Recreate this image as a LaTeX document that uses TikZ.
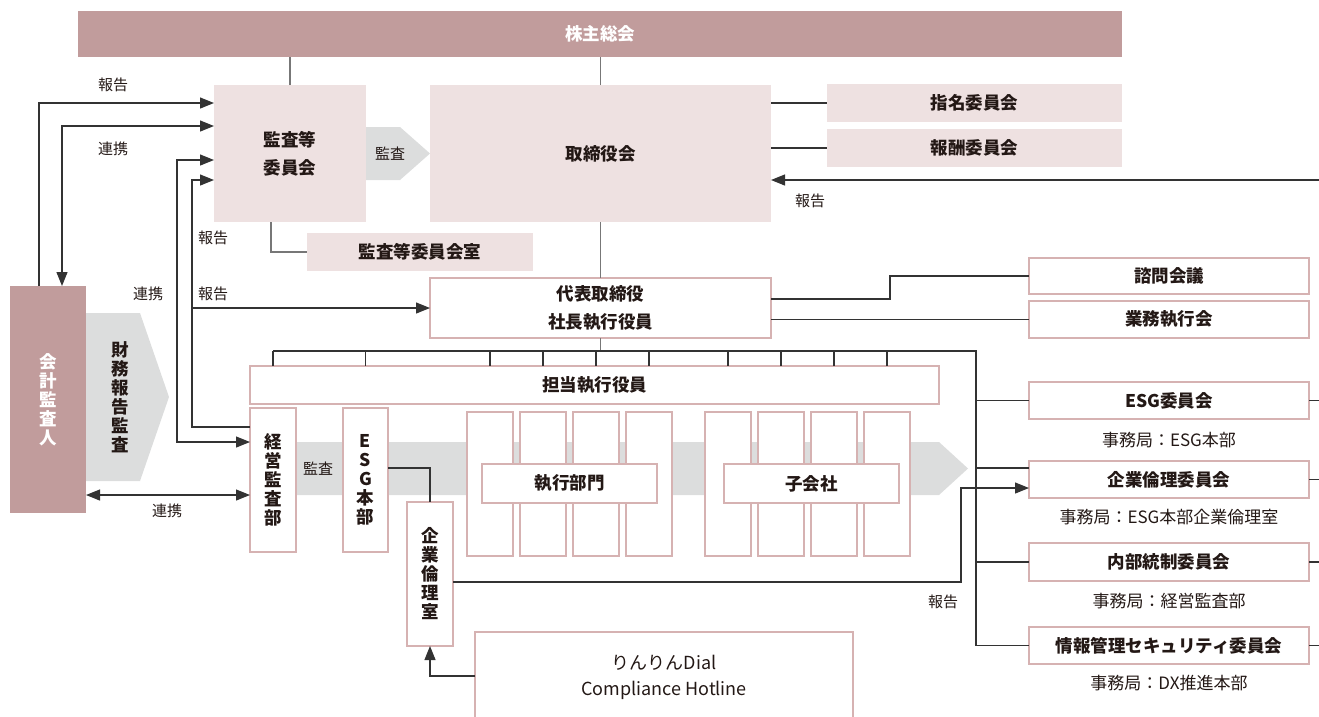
\documentclass[tikz,border=0pt]{standalone}
\usepackage{fontspec}
\setmainfont{Noto Sans CJK JP}
\usetikzlibrary{arrows.meta,calc}
\definecolor{darkpink}{HTML}{C19C9C}
\definecolor{lightpink}{HTML}{EEE1E1}
\definecolor{pinkline}{HTML}{D6B2B2}
\definecolor{bandgray}{HTML}{DCDDDD}
\definecolor{txt}{HTML}{231815}
\definecolor{conncol}{HTML}{333333}
\definecolor{conngray}{HTML}{777777}
\newcommand{\bigfont}{\bfseries\fontsize{17.5}{28}\selectfont}
\newcommand{\vfont}{\fontsize{17.5}{19}\selectfont}
\newcommand{\smallfont}{\fontsize{15}{18}\selectfont}
\newcommand{\secfont}{\fontsize{17}{19}\selectfont}
\begin{document}
\begin{tikzpicture}[x=1pt,y=-1pt,
  box/.style={inner sep=0pt, outer sep=0pt, anchor=north west, align=center, text=txt},
  fillbox/.style={box, fill=lightpink, font=\bigfont},
  darkbox/.style={box, fill=darkpink, text=white},
  linebox/.style={box, draw=pinkline, line width=1.2pt, fill=white, font=\bigfont},
  colbox/.style={box, draw=pinkline, line width=1.2pt, fill=white, minimum width=46pt, minimum height=144pt},
  conn/.style={draw=conncol, line width=1.2pt},
  gline/.style={draw=conngray, line width=1.6pt},
  arr/.style={conn, -{Triangle[length=14pt,width=11pt]}},
  arrboth/.style={conn, {Triangle[length=14pt,width=11pt]}-{Triangle[length=14pt,width=11pt]}},
  lbl/.style={text=txt, font=\smallfont, inner sep=0pt},
  sec/.style={text=txt, font=\secfont, inner sep=0pt},
  band/.style={fill=bandgray}
]
\useasboundingbox (0,0) rectangle (1319,716);
\clip (0,0) rectangle (1319,716);

% ---------- grey arrow shapes ----------
\fill[band] (366,127) -- (400,127) -- (430,153.5) -- (400,180) -- (366,180) -- cycle;
\fill[band] (86,313) -- (140,313) -- (169,397) -- (140,481) -- (86,481) -- cycle;
\fill[band] (296,442) -- (939,442) -- (968,468.5) -- (939,495) -- (296,495) -- cycle;

% ---------- top level ----------
\node[darkbox, font=\bigfont, minimum width=1044pt, minimum height=46pt] (agm) at (78,11) {株主総会};
\node[fillbox, minimum width=152pt, minimum height=137pt] (kansa) at (214,85) {監査等\\委員会};
\node[fillbox, minimum width=341pt, minimum height=137pt] (board) at (430,85) {取締役会};
\node[fillbox, minimum width=295pt, minimum height=38pt] (shimei) at (827,84) {指名委員会};
\node[fillbox, minimum width=295pt, minimum height=38pt] (hoshu) at (827,129) {報酬委員会};
\node[fillbox, minimum width=226pt, minimum height=38pt] (kshitsu) at (307,233) {監査等委員会室};
\node[linebox, minimum width=341pt, minimum height=60pt] (ceo) at (430,278) {代表取締役\\社長執行役員};
\node[linebox, minimum width=280pt, minimum height=36pt] (shimon) at (1029,258) {諮問会議};
\node[linebox, minimum width=280pt, minimum height=37pt] (gyomu) at (1029,301) {業務執行会};

% ---------- executive area ----------
\node[linebox, minimum width=689pt, minimum height=38pt] (tanto) at (250,366) {担当執行役員};
\node[colbox, font=\bfseries\vfont] (keiei) at (250,408) {経\\営\\監\\査\\部};
\node[colbox, font=\bfseries\vfont, minimum width=45pt] (esghq) at (343,408) {E\\S\\G\\本\\部};
\node[colbox, font=\bfseries\vfont] (rinri) at (407,502) {企\\業\\倫\\理\\室};
\node[colbox] (c1) at (467,412) {};
\node[colbox] (c2) at (520,412) {};
\node[colbox] (c3) at (573,412) {};
\node[colbox] (c4) at (626,412) {};
\node[colbox] (c5) at (705,412) {};
\node[colbox] (c6) at (758,412) {};
\node[colbox] (c7) at (811,412) {};
\node[colbox] (c8) at (864,412) {};
\node[linebox, minimum width=175pt, minimum height=39pt] (shikko) at (482,464) {執行部門};
\node[linebox, minimum width=175pt, minimum height=39pt] (kogaisha) at (724,464) {子会社};

% ---------- committees ----------
\node[linebox, minimum width=280pt, minimum height=37pt] (esgc) at (1029,382) {ESG委員会};
\node[linebox, minimum width=280pt, minimum height=37pt] (rinric) at (1029,461) {企業倫理委員会};
\node[linebox, minimum width=280pt, minimum height=38pt] (naibu) at (1029,543) {内部統制委員会};
\node[linebox, minimum width=280pt, minimum height=37pt] (joho) at (1029,627) {情報管理セキュリティ委員会};
\node[sec] (s1) at (1169,440) {事務局：ESG本部};
\node[sec] (s2) at (1169,517) {事務局：ESG本部企業倫理室};
\node[sec] (s3) at (1169,601) {事務局：経営監査部};
\node[sec] (s4) at (1169,683) {事務局：DX推進本部};

% ---------- auditor ----------
\node[darkbox, font=\bfseries\vfont, minimum width=76pt, minimum height=227pt] (kaikei) at (10,286) {会\\計\\監\\査\\人};
\node[text=txt, font=\bfseries\vfont, align=center, inner sep=0pt] (zaimu) at (120,397) {財\\務\\報\\告\\監\\査};
\node[lbl] (kansaL1) at (390,153.5) {監査};
\node[lbl] (kansaL2) at (318,469) {監査};

% ---------- hotline ----------
\node[box, minimum width=378pt, minimum height=90pt, font=\fontsize{18}{26}\selectfont] (hotline) at (475,632) {りんりんDial\\Compliance Hotline};
\draw[draw=pinkline, line width=1.2pt] (hotline.south west) -- (hotline.north west) -- (hotline.north east) -- (hotline.south east);

% ---------- coordinates ----------
\coordinate (busL) at (273,351);
\coordinate (busR) at (976,351);
\coordinate (rEdge) at (1319,180);
\coordinate (k1) at (890,299);
\coordinate (v1) at (177,300);
\coordinate (v2) at (192,308);
\coordinate (v3) at (961,582);
\coordinate (h1) at (475,676);
\coordinate (rj) at ([yshift=11.5pt]rinric.west);
\coordinate (kk) at ([yshift=-87pt]keiei.north west);

% ---------- connectors: top ----------
\draw[gline] (kansa.north) -- (kansa.north |- agm.south);
\draw[gline] (board.north) -- (board.north |- agm.south);
\draw[conn] (board.east |- shimei.west) -- (shimei.west);
\draw[conn] (board.east |- hoshu.west) -- (hoshu.west);
\draw[arr] (rEdge) -- (board.east |- rEdge);
\draw[gline] ([xshift=-19pt]kansa.south) |- (kshitsu.west);
\draw[gline] (board.south) -- (ceo.north);
\draw[conn] (ceo.east |- k1) -- (k1) |- (shimon.west);
\draw[conn] (ceo.east |- gyomu.west) -- (gyomu.west);
\draw[gline] (ceo.south) -- (ceo.south |- busL);

% ---------- bus ----------
\draw[conn] (busL) -- (busR) -- (busR |- joho.west) -- (joho.west);
\foreach \n in {keiei,esghq,c1,c2,c3,c4,c5,c6,c7,c8}{
  \draw[conn] (busL -| \n.north) -- (tanto.north -| \n.north);
}
\draw[conn] (busR |- esgc.west) -- (esgc.west);
\draw[conn] (busR |- rj) -- (rj);
\draw[conn] (busR |- naibu.west) -- (naibu.west);
\foreach \n in {esgc,rinric,naibu,joho}{
  \draw[conn] (\n.east) -- (\n.east -| rEdge);
}

% ---------- ethics office ----------
\draw[conn] ([yshift=12pt]esghq.east) -| (rinri.north);
\draw[arr] (rinri.east |- v3) -- (v3) |- ([yshift=-8.5pt]rinric.west);
\draw[arr] (h1) -| (rinri.south);

% ---------- left arrows ----------
\draw[arr] ([xshift=29pt]kaikei.north west) |- ([yshift=-18pt]kansa.north west);
\draw[arrboth] ([yshift=-41pt]kansa.north west) -| ([xshift=52pt]kaikei.north west);
\draw[arrboth] ([yshift=-75pt]kansa.north west) -| (v1) |- ([yshift=-34pt]keiei.north west);
\draw[arr] ([yshift=-19pt]keiei.north west) -| (v2) |- ([yshift=-95pt]kansa.north west);
\draw[arr] (v2) -- (ceo.west);
\draw[arrboth] (kaikei.east |- kk) -- (kk);

% ---------- labels ----------
\node[lbl] (l1) at (113,85) {報告};
\node[lbl] (l2) at (113,149) {連携};
\node[lbl] (l3) at (213,238) {報告};
\node[lbl] (l4) at (148,294) {連携};
\node[lbl] (l5) at (213,294) {報告};
\node[lbl] (l6) at (167,511) {連携};
\node[lbl] (l7) at (810,201) {報告};
\node[lbl] (l8) at (943,602) {報告};
\end{tikzpicture}
\end{document}
